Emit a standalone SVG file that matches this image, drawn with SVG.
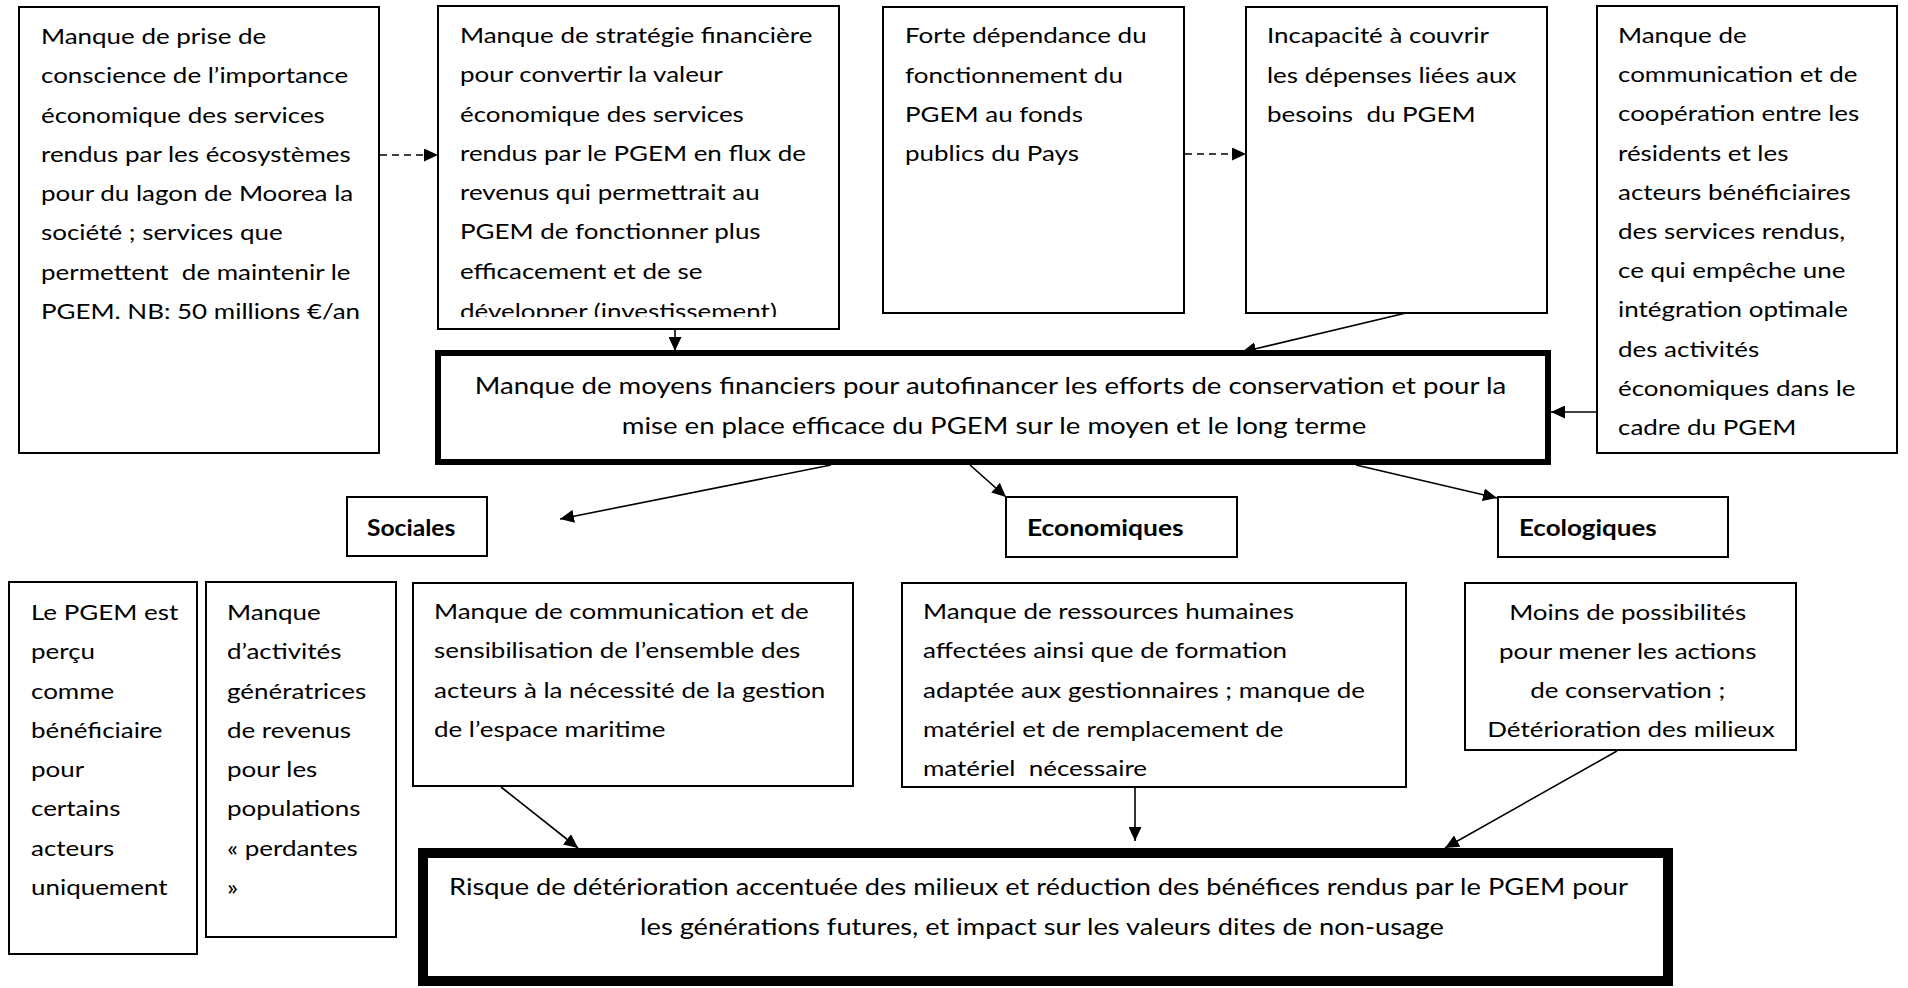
<svg xmlns="http://www.w3.org/2000/svg" width="1908" height="988" viewBox="0 0 1908 988">
<style>
.box{fill:#fff;stroke:#000;stroke-width:2}
.thick{fill:#fff;stroke:#000;stroke-width:6}
.thick2{fill:#fff;stroke:#000;stroke-width:10}
.t{font-family:Lato,"Noto Sans",sans-serif;font-size:22px;fill:#000}
.big{font-size:23px}
.b{font-weight:bold}
.m{text-anchor:middle}
.pre{white-space:pre}
.c{stroke:#000;stroke-width:1.6;fill:none;marker-end:url(#ah)}
.d{stroke-dasharray:7 5}
</style>
<defs>
<marker id="ah" markerUnits="userSpaceOnUse" markerWidth="15" markerHeight="13" refX="14" refY="6.5" orient="auto"><path d="M0,0 L14,6.5 L0,13 z" fill="#000"/></marker>
<clipPath id="clip2" clipPathUnits="userSpaceOnUse"><rect x="438" y="6" width="401" height="311"/></clipPath>
</defs>
<rect width="1908" height="988" fill="#fff"/>

<g id="n1">
<rect class="box" x="19" y="7" width="360" height="446"/>
<text class="t" transform="translate(41,0) scale(1.18,1)">
<tspan x="0" y="44">Manque de prise de</tspan>
<tspan x="0" y="83.3">conscience de l’importance</tspan>
<tspan x="0" y="122.6">économique des services</tspan>
<tspan x="0" y="161.9">rendus par les écosystèmes</tspan>
<tspan x="0" y="201.2">pour du lagon de Moorea la</tspan>
<tspan x="0" y="240.5">société ; services que</tspan>
<tspan class="pre" x="0" y="279.8">permettent  de maintenir le</tspan>
<tspan x="0" y="319.1">PGEM. NB: 50 millions €/an</tspan>
</text>
</g>

<g id="n2">
<rect class="box" x="438" y="6" width="401" height="323"/>
<g clip-path="url(#clip2)">
<text class="t" transform="translate(460,0) scale(1.18,1)">
<tspan x="0" y="43">Manque de stratégie financière</tspan>
<tspan x="0" y="82.3">pour convertir la valeur</tspan>
<tspan x="0" y="121.6">économique des services</tspan>
<tspan x="0" y="160.9">rendus par le PGEM en flux de</tspan>
<tspan x="0" y="200.2">revenus qui permettrait au</tspan>
<tspan x="0" y="239.5">PGEM de fonctionner plus</tspan>
<tspan x="0" y="278.8">efficacement et de se</tspan>
<tspan x="0" y="319">développer (investissement)</tspan>
</text>
</g>
</g>

<g id="n3">
<rect class="box" x="883" y="7" width="301" height="306"/>
<text class="t" transform="translate(905,0) scale(1.18,1)">
<tspan x="0" y="43.5">Forte dépendance du</tspan>
<tspan x="0" y="82.8">fonctionnement du</tspan>
<tspan x="0" y="122.1">PGEM au fonds</tspan>
<tspan x="0" y="161.4">publics du Pays</tspan>
</text>
</g>

<g id="n4">
<rect class="box" x="1246" y="7" width="301" height="306"/>
<text class="t" transform="translate(1267,0) scale(1.18,1)">
<tspan x="0" y="43.5">Incapacité à couvrir</tspan>
<tspan x="0" y="82.8">les dépenses liées aux</tspan>
<tspan class="pre" x="0" y="122.1">besoins  du PGEM</tspan>
</text>
</g>

<g id="n5">
<rect class="box" x="1597" y="6" width="300" height="447"/>
<text class="t" transform="translate(1618,0) scale(1.18,1)">
<tspan x="0" y="43">Manque de</tspan>
<tspan x="0" y="82.2">communication et de</tspan>
<tspan x="0" y="121.4">coopération entre les</tspan>
<tspan x="0" y="160.6">résidents et les</tspan>
<tspan x="0" y="199.8">acteurs bénéficiaires</tspan>
<tspan x="0" y="239">des services rendus,</tspan>
<tspan x="0" y="278.2">ce qui empêche une</tspan>
<tspan x="0" y="317.4">intégration optimale</tspan>
<tspan x="0" y="356.6">des activités</tspan>
<tspan x="0" y="395.8">économiques dans le</tspan>
<tspan x="0" y="435">cadre du PGEM</tspan>
</text>
</g>

<g id="main">
<rect class="thick" x="438" y="353" width="1110" height="109"/>
<text class="t big m" transform="translate(994,0) scale(1.2,1)">
<tspan x="0" y="394">Manque de moyens financiers pour autofinancer les efforts de conservation et pour la</tspan>
<tspan x="0" y="434">mise en place efficace du PGEM sur le moyen et le long terme</tspan>
</text>
</g>

<g id="sociales">
<rect class="box" x="347" y="497" width="140" height="59"/>
<text class="t b" transform="translate(367,0) scale(1.12,1)"><tspan x="0" y="536">Sociales</tspan></text>
</g>

<g id="economiques">
<rect class="box" x="1006" y="497" width="231" height="60"/>
<text class="t b" transform="translate(1027,0) scale(1.2,1)"><tspan x="0" y="536">Economiques</tspan></text>
</g>

<g id="ecologiques">
<rect class="box" x="1498" y="497" width="230" height="60"/>
<text class="t b" transform="translate(1519,0) scale(1.18,1)"><tspan x="0" y="536">Ecologiques</tspan></text>
</g>

<g id="l1">
<rect class="box" x="9" y="582" width="188" height="372"/>
<text class="t" transform="translate(31,0) scale(1.18,1)">
<tspan x="0" y="620">Le PGEM est</tspan>
<tspan x="0" y="659.3">perçu</tspan>
<tspan x="0" y="698.6">comme</tspan>
<tspan x="0" y="737.9">bénéficiaire</tspan>
<tspan x="0" y="777.2">pour</tspan>
<tspan x="0" y="816.5">certains</tspan>
<tspan x="0" y="855.8">acteurs</tspan>
<tspan x="0" y="895.1">uniquement</tspan>
</text>
</g>

<g id="l2">
<rect class="box" x="206" y="582" width="190" height="355"/>
<text class="t" transform="translate(227,0) scale(1.18,1)">
<tspan x="0" y="620">Manque</tspan>
<tspan x="0" y="659.3">d’activités</tspan>
<tspan x="0" y="698.6">génératrices</tspan>
<tspan x="0" y="737.9">de revenus</tspan>
<tspan x="0" y="777.2">pour les</tspan>
<tspan x="0" y="816.5">populations</tspan>
<tspan x="0" y="855.8">« perdantes</tspan>
<tspan x="0" y="895.1">»</tspan>
</text>
</g>

<g id="mc">
<rect class="box" x="413" y="583" width="440" height="203"/>
<text class="t" transform="translate(434,0) scale(1.18,1)">
<tspan x="0" y="619">Manque de communication et de</tspan>
<tspan x="0" y="658.3">sensibilisation de l’ensemble des</tspan>
<tspan x="0" y="697.6">acteurs à la nécessité de la gestion</tspan>
<tspan x="0" y="736.9">de l’espace maritime</tspan>
</text>
</g>

<g id="rh">
<rect class="box" x="902" y="583" width="504" height="204"/>
<text class="t" transform="translate(923,0) scale(1.18,1)">
<tspan x="0" y="619">Manque de ressources humaines</tspan>
<tspan x="0" y="658.3">affectées ainsi que de formation</tspan>
<tspan x="0" y="697.6">adaptée aux gestionnaires ; manque de</tspan>
<tspan x="0" y="736.9">matériel et de remplacement de</tspan>
<tspan class="pre" x="0" y="776.2">matériel  nécessaire</tspan>
</text>
</g>

<g id="moins">
<rect class="box" x="1465" y="583" width="331" height="167"/>
<text class="t m" transform="translate(1631,0) scale(1.18,1)">
<tspan x="0" y="620">Moins de possibilités</tspan>
<tspan x="0" y="659">pour mener les actions</tspan>
<tspan x="0" y="698">de conservation ;</tspan>
<tspan x="0" y="737">Détérioration des milieux</tspan>
</text>
</g>

<g id="bottom">
<rect class="thick2" x="423" y="853" width="1245" height="128"/>
<text class="t big m" transform="translate(1042,0) scale(1.185,1)">
<tspan x="0" y="895">Risque de détérioration accentuée des milieux et réduction des bénéfices rendus par le PGEM pour</tspan>
<tspan x="0" y="935">les générations futures, et impact sur les valeurs dites de non-usage</tspan>
</text>
</g>

<g id="connectors">
<line class="c d" x1="380" y1="155" x2="438" y2="155"/>
<line class="c d" x1="1185" y1="154" x2="1246" y2="154"/>
<line class="c" x1="675" y1="330" x2="675" y2="351"/>
<line class="c" x1="1406" y1="313" x2="1242" y2="352"/>
<line class="c" x1="1597" y1="412" x2="1551" y2="412"/>
<line class="c" x1="831" y1="465" x2="560" y2="519"/>
<line class="c" x1="970" y1="465" x2="1006" y2="497"/>
<line class="c" x1="1356" y1="465" x2="1497" y2="498"/>
<line class="c" x1="501" y1="787" x2="578" y2="848"/>
<line class="c" x1="1135" y1="787" x2="1135" y2="841"/>
<line class="c" x1="1617" y1="751" x2="1445" y2="848"/>
</g>
</svg>
